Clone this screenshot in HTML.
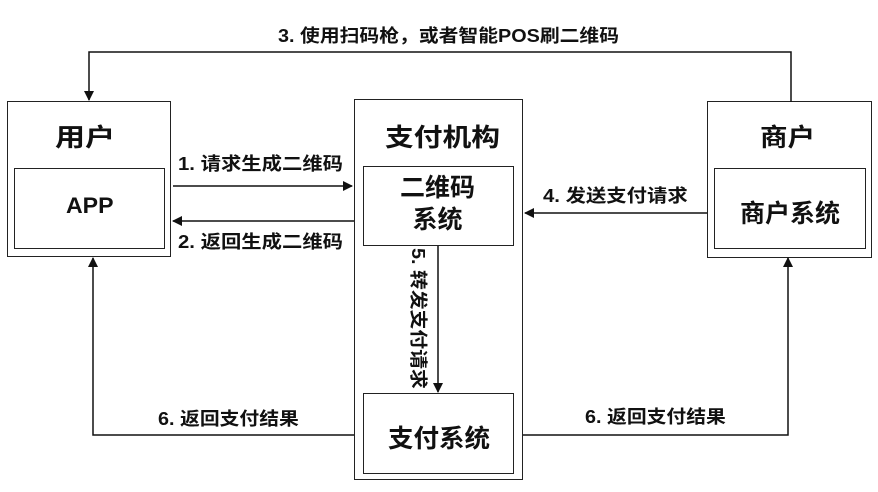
<!DOCTYPE html>
<html><head><meta charset="utf-8"><style>
body{margin:0;width:878px;height:492px;background:#fff;overflow:hidden;position:relative;font-family:"Liberation Sans","Noto Sans CJK SC",sans-serif;font-weight:bold;color:#111}
.b{position:absolute;border:1.5px solid #222;box-sizing:border-box;background:#fff}
.t{position:absolute;white-space:nowrap;transform-origin:left top}
</style></head><body>
<div class="b" style="left:7px;top:101px;width:164px;height:156px"></div>
<div class="b" style="left:14px;top:168px;width:151px;height:81px"></div>
<div class="b" style="left:354px;top:99px;width:169px;height:381px"></div>
<div class="b" style="left:363px;top:166px;width:151px;height:80px"></div>
<div class="b" style="left:363px;top:393px;width:151px;height:81px"></div>
<div class="b" style="left:707px;top:101px;width:165px;height:157px"></div>
<div class="b" style="left:714px;top:168px;width:152px;height:81px"></div>
<svg width="878" height="492" style="position:absolute;left:0;top:0">
<defs><marker id="a" markerWidth="10" markerHeight="10" refX="9" refY="5" orient="auto" markerUnits="userSpaceOnUse"><path d="M0,0 L10,5 L0,10z" fill="#111"/></marker></defs>
<g stroke="#111" stroke-width="1.5" fill="none">
<polyline points="791,102 791,52 89,52 89,100" marker-end="url(#a)"/>
<line x1="173" y1="186" x2="352" y2="186" marker-end="url(#a)"/>
<line x1="354" y1="221" x2="173" y2="221" marker-end="url(#a)"/>
<line x1="707" y1="213" x2="525" y2="213" marker-end="url(#a)"/>
<line x1="438" y1="246" x2="438" y2="392" marker-end="url(#a)"/>
<polyline points="354,435 93,435 93,258" marker-end="url(#a)"/>
<polyline points="523,435 788,435 788,258" marker-end="url(#a)"/>
</g></svg>
<div class="t" style="left:278px;top:22px;font-size:18px;transform:scaleX(1.1)">3. 使用扫码枪，或者智能POS刷二维码</div>
<div class="t" style="left:55px;top:118px;font-size:25px;transform:scaleX(1.2)">用户</div>
<div class="t" style="left:66px;top:193px;font-size:22px;transform:scaleX(1.05)">APP</div>
<div class="t" style="left:385px;top:118px;font-size:25px;transform:scaleX(1.15)">支付机构</div>
<div class="t" style="left:400px;top:172px;font-size:25px;line-height:32px;text-align:center;width:75px">二维码<br>系统</div>
<div class="t" style="left:388px;top:419px;font-size:25px;transform:scaleX(1.02)">支付系统</div>
<div class="t" style="left:760px;top:118px;font-size:25px;transform:scaleX(1.1)">商户</div>
<div class="t" style="left:740px;top:194px;font-size:25px">商户系统</div>
<div class="t" style="left:178px;top:150px;font-size:18px;transform:scaleX(1.13)">1. 请求生成二维码</div>
<div class="t" style="left:178px;top:228px;font-size:18px;transform:scaleX(1.13)">2. 返回生成二维码</div>
<div class="t" style="left:543px;top:182px;font-size:18px;transform:scaleX(1.13)">4. 发送支付请求</div>
<div class="t" style="left:158px;top:405px;font-size:18px;transform:scaleX(1.1)">6. 返回支付结果</div>
<div class="t" style="left:585px;top:403px;font-size:18px;transform:scaleX(1.1)">6. 返回支付结果</div>
<div class="t" style="left:432px;top:248px;font-size:18px;transform:rotate(90deg) scaleX(1.1)">5. 转发支付请求</div>
</body></html>
